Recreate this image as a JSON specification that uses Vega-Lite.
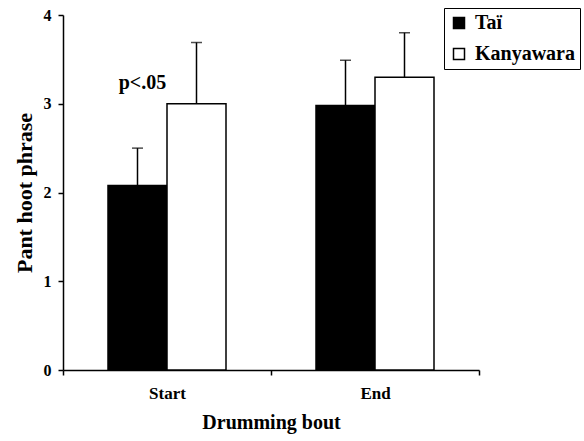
{
  "$schema": "https://vega.github.io/schema/vega-lite/v6.json",
  "width": 416,
  "height": 355,
  "autosize": {"type": "none"},
  "padding": {"left": 63, "top": 15, "right": 105, "bottom": 71},
  "background": "white",
  "config": {
    "view": {"stroke": null},
    "font": "Liberation Serif",
    "axis": {
      "domainColor": "black",
      "domainWidth": 1.5,
      "tickColor": "black",
      "tickWidth": 1.5,
      "tickSize": 5,
      "labelColor": "black",
      "labelFont": "Liberation Serif",
      "labelFontWeight": "bold",
      "labelFontSize": 16,
      "titleColor": "black",
      "titleFont": "Liberation Serif",
      "titleFontWeight": "bold",
      "titleFontSize": 20,
      "grid": false
    }
  },
  "datasets": {
    "bars": [
      {"bout": "Start", "site": "Taï", "mean": 2.08, "upper": 2.5},
      {"bout": "Start", "site": "Kanyawara", "mean": 3.0, "upper": 3.69},
      {"bout": "End", "site": "Taï", "mean": 2.98, "upper": 3.49},
      {"bout": "End", "site": "Kanyawara", "mean": 3.3, "upper": 3.8}
    ],
    "notes": [
      {"bout": "Start", "site": "Taï", "label": "p<.05", "y": 3.17}
    ]
  },
  "encoding": {
    "x": {
      "field": "bout",
      "type": "nominal",
      "sort": ["Start", "End"],
      "scale": {"domain": ["Start", "End"], "paddingInner": 0, "paddingOuter": 0},
      "axis": {"title": "Drumming bout", "labelAngle": 0, "labelFontSize": 17, "tickBand": "extent", "labelPadding": 10, "titlePadding": 11}
    },
    "xOffset": {
      "field": "site",
      "type": "nominal",
      "scale": {"domain": ["Taï", "Kanyawara"], "paddingInner": 0, "paddingOuter": 0.7627}
    }
  },
  "layer": [
    {
      "data": {"name": "bars"},
      "mark": {"type": "rule", "color": "black", "strokeWidth": 1.5},
      "encoding": {
        "y": {"field": "mean", "type": "quantitative"},
        "y2": {"field": "upper"}
      }
    },
    {
      "data": {"name": "bars"},
      "mark": {"type": "tick", "color": "black", "thickness": 1.5, "size": 11, "orient": "horizontal"},
      "encoding": {
        "y": {"field": "upper", "type": "quantitative"}
      }
    },
    {
      "data": {"name": "bars"},
      "mark": {"type": "bar", "stroke": "black", "strokeWidth": 1.5},
      "encoding": {
        "y": {
          "field": "mean",
          "type": "quantitative",
          "scale": {"domain": [0, 4], "nice": false},
          "axis": {"title": "Pant hoot phrase", "titleFontSize": 22, "values": [0, 1, 2, 3, 4], "format": "d", "labelPadding": 7, "titlePadding": 7}
        },
        "fill": {
          "field": "site",
          "type": "nominal",
          "scale": {"domain": ["Taï", "Kanyawara"], "range": ["black", "white"]},
          "legend": {
            "title": null,
            "orient": "none",
            "legendX": 381,
            "legendY": -7,
            "strokeColor": "black",
            "fillColor": "white",
            "padding": 5,
            "symbolType": "square",
            "symbolSize": 121,
            "symbolStrokeColor": "black",
            "symbolStrokeWidth": 1.5,
            "labelFont": "Liberation Serif",
            "labelFontWeight": "bold",
            "labelFontSize": 20,
            "labelColor": "black",
            "labelOffset": 6,
            "rowPadding": 11
          }
        }
      }
    },
    {
      "data": {"name": "notes"},
      "mark": {"type": "text", "font": "Liberation Serif", "fontWeight": "bold", "fontSize": 20, "color": "black", "baseline": "alphabetic", "align": "center", "dx": 5},
      "encoding": {
        "y": {"field": "y", "type": "quantitative"},
        "text": {"field": "label"}
      }
    }
  ]
}
